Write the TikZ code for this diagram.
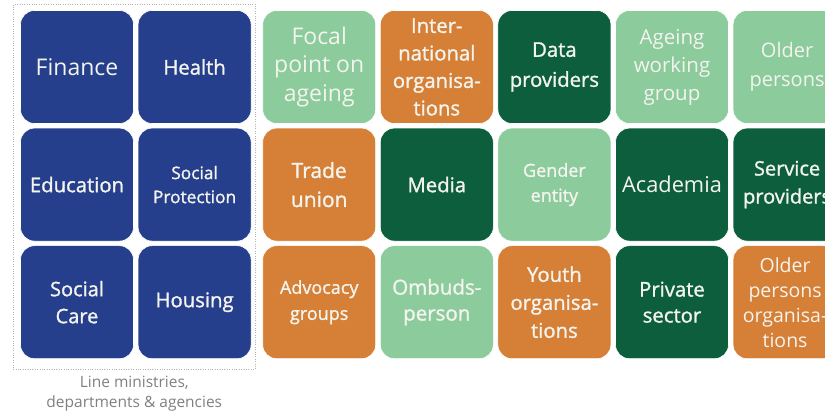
\documentclass[tikz,border=0pt]{standalone}
\usepackage{fontspec}
\setmainfont{Open Sans}
\newfontfamily\semib{Open Sans}[FakeBold=1.3]
\usetikzlibrary{positioning,fit}

\definecolor{navy}{HTML}{263F8C}
\definecolor{palegreen}{HTML}{8CCB9B}
\definecolor{darkgreen}{HTML}{0D5E3C}
\definecolor{ochre}{HTML}{D67F36}
\definecolor{boxtext}{HTML}{F4F4EF}
\definecolor{caption}{HTML}{808080}

\begin{document}
\begin{tikzpicture}[x=1pt,y=1pt,node distance=4pt,
                    box/.style={rectangle,rounded corners=14pt,minimum width=113pt,
                                minimum height=113pt,inner sep=1pt,align=center,
                                text=boxtext,draw=white,line width=0.6pt},
                    ministry/.style={box,fill=navy},
                    focal/.style={box,fill=palegreen},
                    civil/.style={box,fill=ochre},
                    expert/.style={box,fill=darkgreen},
                    edge/.style={minimum width=108pt},
                    big/.style={font=\fontsize{23}{28.5}\selectfont},
                    mid/.style={font=\fontsize{20.5}{28}\selectfont},
                    midb/.style={font=\semib\fontsize{20.3}{28}\selectfont},
                    small/.style={font=\semib\fontsize{17.5}{25}\selectfont}]

  \useasboundingbox (0,0) rectangle (825,-414);
  \clip (0,0) rectangle (825,-414);

  % line ministries
  \node[ministry,big]  (finance)    at (77,-67)           {Finance};
  \node[ministry,midb] (health)     [right=of finance]    {Health};
  \node[ministry,midb] (education)  [below=of finance]    {Education};
  \node[ministry,small,font=\semib\fontsize{17.3}{24}\selectfont]
                       (protection) [right=of education]  {Social\\Protection};
  \node[ministry,midb,font=\semib\fontsize{20}{27}\selectfont]
                       (care)       [below=of education]  {Social\\Care};
  \node[ministry,midb] (housing)    [right=of care]       {Housing};

  \node[draw=caption!60,dotted,inner sep=0pt,
        fit={([xshift=-7pt,yshift=6pt]finance.north west)
             ([xshift=4pt,yshift=-10pt]housing.south east)}] (ministries) {};
  \node[text=caption,align=center,font=\fontsize{15.5}{20}\selectfont]
                       (ministrieslabel) [below=3pt of ministries]
                       {Line ministries,\\departments \& agencies};

  % first row
  \node[focal,big]     (focalpoint) [right=11pt of health] {Focal\\point on\\ageing};
  \node[civil,midb,font=\semib\fontsize{20.3}{27.5}\selectfont]
                       (international) [right=of focalpoint] {Inter-\\national\\organisa-\\tions};
  \node[expert,midb,font=\semib\fontsize{20.3}{30}\selectfont]
                       (data)       [right=of international] {Data\\providers};
  \node[focal,mid]     (workgroup)  [right=of data]       {Ageing\\working\\group};
  \node[focal,mid,edge,font=\fontsize{20}{29}\selectfont]
                       (older)      [right=of workgroup]  {Older\\persons};

  % second row
  \node[civil,midb,font=\semib\fontsize{21}{29}\selectfont]
                       (trade)      [below=of focalpoint] {Trade\\union};
  \node[expert,midb]   (media)      [right=of trade]      {Media};
  \node[focal,small,font=\semib\fontsize{18}{25}\selectfont]
                       (gender)     [right=of media]      {Gender\\entity};
  \node[expert,big,font=\fontsize{21.8}{28}\selectfont]
                       (academia)   [right=of gender]     {Academia};
  \node[expert,midb,edge,font=\semib\fontsize{20}{28}\selectfont]
                       (service)    [right=of academia]   {Service\\providers};

  % third row
  \node[civil,small,font=\semib\fontsize{18}{26}\selectfont]
                       (advocacy)   [below=of trade]      {Advocacy\\groups};
  \node[focal,midb,font=\semib\fontsize{20.5}{26}\selectfont]
                       (ombuds)     [right=of advocacy]   {Ombuds-\\person};
  \node[civil,midb]    (youth)      [right=of ombuds]     {Youth\\organisa-\\tions};
  \node[expert,midb,font=\semib\fontsize{20.3}{26}\selectfont]
                       (private)    [right=of youth]      {Private\\sector};
  \node[civil,mid,edge,minimum width=104pt,font=\fontsize{19.5}{25}\selectfont]
                       (olderorgs)  [right=of private]    {Older\\persons\\organisa-\\tions};
\end{tikzpicture}
\end{document}
